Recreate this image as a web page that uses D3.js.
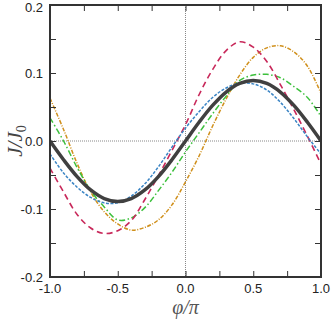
<!DOCTYPE html>
<html><head><meta charset="utf-8">
<script src="https://cdn.jsdelivr.net/npm/d3@7"></script>
<style>html,body{margin:0;padding:0;background:#fff;}svg{display:block;}</style>
</head><body>
<svg id="c" width="332" height="321"></svg>
<script>
const phi = [-1.0,-0.9,-0.8,-0.7,-0.6,-0.5,-0.4,-0.3,-0.2,-0.1,0.0,0.1,0.2,0.3,0.4,0.5,0.6,0.7,0.8,0.9,1.0];
const blackVals  = [0.000,-0.0275,-0.0523,-0.072,-0.0846,-0.089,-0.0846,-0.072,-0.0523,-0.0275,0.000,0.0275,0.0523,0.072,0.0846,0.089,0.0846,0.072,0.0523,0.0275,0.000];
const blueVals   = [-0.019,-0.047,-0.068,-0.083,-0.091,-0.091,-0.081,-0.063,-0.038,-0.009,0.019,0.043,0.064,0.078,0.085,0.084,0.075,0.057,0.033,0.006,-0.019];
const redVals    = [-0.040,-0.075,-0.108,-0.128,-0.136,-0.132,-0.117,-0.086,-0.051,-0.014,0.024,0.068,0.105,0.133,0.146,0.138,0.117,0.083,0.046,0.007,-0.034];
const orangeVals = [0.063,0.017,-0.033,-0.075,-0.104,-0.122,-0.131,-0.127,-0.116,-0.094,-0.060,-0.022,0.022,0.062,0.097,0.123,0.137,0.140,0.131,0.110,0.070];
const greenVals  = [0.034,0.000,-0.039,-0.073,-0.097,-0.116,-0.113,-0.098,-0.073,-0.046,-0.016,0.012,0.040,0.066,0.089,0.097,0.098,0.093,0.080,0.064,0.036];
const xTicks = [-1.0,-0.75,-0.5,-0.25,0.0,0.25,0.5,0.75,1.0];
const xLabels = ["-1.0","-0.5","0.0","0.5","1.0"];
const yTicks = [-0.2,-0.15,-0.1,-0.05,0.0,0.05,0.1,0.15,0.2];
const yLabels = ["-0.2","-0.1","0.0","0.1","0.2"];

const svg = d3.select("#c");
const L=50, R=321, T=5, B=277;
const x = d3.scaleLinear().domain([-1,1]).range([L,R]);
const y = d3.scaleLinear().domain([-0.2,0.2]).range([B,T]);

svg.append("defs").append("clipPath").attr("id","clip")
  .append("rect").attr("x",L).attr("y",T).attr("width",R-L).attr("height",B-T);

// zero lines
svg.append("line").attr("x1",L).attr("x2",R).attr("y1",y(0)).attr("y2",y(0))
  .attr("stroke","#888").attr("stroke-width",1).attr("stroke-dasharray","1,1");
svg.append("line").attr("x1",x(0)).attr("x2",x(0)).attr("y1",T).attr("y2",B)
  .attr("stroke","#888").attr("stroke-width",1).attr("stroke-dasharray","1,1");

const line = d3.line().x(d=>x(d[0])).y(d=>y(d[1])).curve(d3.curveCatmullRom.alpha(0.5));
const series = [
  {v: orangeVals, c:"#d0901c", w:1.5, dash:"4,1.5,1,1.5"},
  {v: greenVals,  c:"#3cc03c", w:1.5, dash:"6,2.5,1.5,2.5"},
  {v: redVals,    c:"#c8285a", w:1.6, dash:"6,4"},
  {v: blueVals,   c:"#3a84c4", w:1.5, dash:"3,1.5"},
  {v: blackVals,  c:"#404040", w:3.5, dash:null}
];
const g = svg.append("g").attr("clip-path","url(#clip)");
series.forEach(s=>{
  g.append("path").datum(phi.map((p,i)=>[p,s.v[i]]))
   .attr("d",line).attr("fill","none").attr("stroke",s.c)
   .attr("stroke-width",s.w).attr("stroke-dasharray",s.dash);
});

// axes with inward ticks on all sides
const tl = 6;
const axB = d3.axisBottom(x).tickValues(xTicks).tickSizeInner(-tl).tickSizeOuter(0).tickFormat("");
const axT = d3.axisTop(x).tickValues(xTicks).tickSizeInner(-tl).tickSizeOuter(0).tickFormat("");
const axL = d3.axisLeft(y).tickValues(yTicks).tickSizeInner(-tl).tickSizeOuter(0).tickFormat("");
const axR = d3.axisRight(y).tickValues(yTicks).tickSizeInner(-tl).tickSizeOuter(0).tickFormat("");
[[axB,`translate(0,${B})`],[axT,`translate(0,${T})`],[axL,`translate(${L},0)`],[axR,`translate(${R},0)`]].forEach(([a,t])=>{
  const gg = svg.append("g").attr("transform",t).call(a);
  gg.select(".domain").remove();
  gg.selectAll("line").attr("stroke","#333").attr("stroke-width",1);
});
svg.append("rect").attr("x",L).attr("y",T).attr("width",R-L).attr("height",B-T)
  .attr("fill","none").attr("stroke","#333").attr("stroke-width",2);

// labels
const font = "'Liberation Sans', Arial, sans-serif";
xLabels.forEach(t=>{
  svg.append("text").attr("x",x(+t)).attr("y",B+16).attr("text-anchor","middle")
    .attr("font-family",font).attr("font-size",13).attr("fill","#222").text(t);
});
yLabels.forEach(t=>{
  svg.append("text").attr("x",L-7).attr("y",Math.max(y(+t)+5, 11.5)).attr("text-anchor","end")
    .attr("font-family",font).attr("font-size",13).attr("fill","#222").text(t);
});
// axis titles
const serif = "'Liberation Serif','DejaVu Serif',serif";
const xt = svg.append("text").attr("x",x(0)).attr("y",314).attr("text-anchor","middle")
  .attr("font-family",serif).attr("font-size",20).attr("font-style","italic").attr("fill","#555");
xt.text("φ/π");
const yt = svg.append("text").attr("transform",`translate(22,${y(0)}) rotate(-90)`).attr("text-anchor","middle")
  .attr("font-family",serif).attr("font-size",21).attr("font-style","italic").attr("fill","#444");
yt.append("tspan").text("J/J");
yt.append("tspan").attr("font-size",14).attr("font-style","normal").attr("dy",4).text("0");
</script>
</body></html>
